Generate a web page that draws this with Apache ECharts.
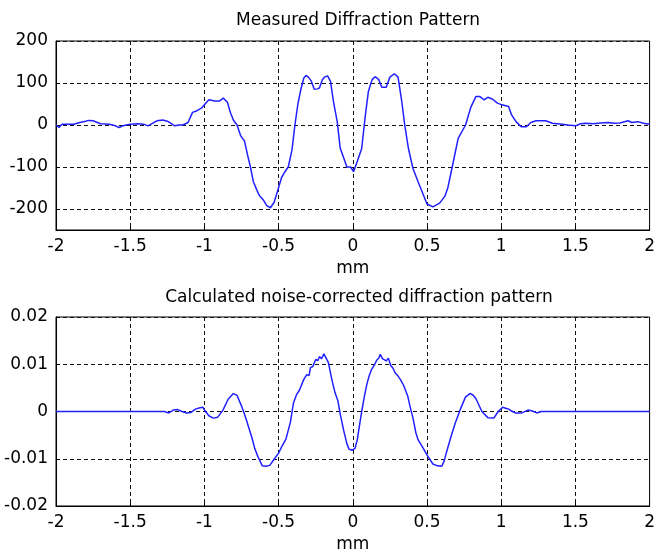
<!DOCTYPE html>
<html>
<head>
<meta charset="utf-8">
<script src="https://cdn.jsdelivr.net/npm/echarts@6/dist/echarts.min.js"></script>
<style>
html,body{margin:0;padding:0;background:#fff;}
#chart{width:658px;height:555px;}
</style>
</head>
<body>
<div id="chart"></div>
<script>
// ---------- data ----------
const measuredTitle = 'Measured Diffraction Pattern';
const correctedTitle = 'Calculated noise-corrected diffraction pattern';
const xName = 'mm';

const xTicks = [-2, -1.5, -1, -0.5, 0, 0.5, 1, 1.5, 2];
const measuredTicks = [-200, -100, 0, 100, 200];
const correctedTicks = [-0.02, -0.01, 0, 0.01, 0.02];

const measuredMm = [
  -2.00,-1.98,-1.96,-1.92,-1.88,-1.84,-1.80,-1.78,-1.75,-1.70,-1.64,-1.60,-1.575,-1.55,-1.50,-1.45,-1.41,-1.38,-1.35,-1.32,
  -1.28,-1.25,-1.235,-1.20,-1.17,-1.145,-1.11,-1.08,-1.05,-1.02,-1.00,-0.97,-0.93,-0.90,-0.873,-0.845,-0.825,-0.805,-0.78,-0.755,
  -0.73,-0.71,-0.69,-0.67,-0.65,-0.63,-0.60,-0.58,-0.555,-0.53,-0.505,-0.48,-0.455,-0.435,-0.41,-0.39,-0.37,-0.35,-0.33,-0.315,
  -0.30,-0.28,-0.26,-0.24,-0.225,-0.205,-0.19,-0.17,-0.15,-0.13,-0.105,-0.085,-0.06,-0.04,-0.015,0.005,0.03,0.06,0.085,0.105,
  0.13,0.15,0.175,0.195,0.225,0.25,0.28,0.305,0.33,0.35,0.375,0.405,0.44,0.475,0.50,0.54,0.585,0.62,0.64,0.67,
  0.71,0.76,0.795,0.83,0.855,0.885,0.91,0.94,0.975,1.005,1.05,1.07,1.10,1.135,1.17,1.20,1.235,1.30,1.345,1.41,
  1.45,1.50,1.535,1.57,1.62,1.67,1.72,1.76,1.80,1.855,1.88,1.92,1.96,2.00
];
const measured = [
  0,-6,2,2,2,6,9,11,10,3,2,-2,-6,-2,2,3,2,-2,4,10,
  12,9,6,-2,0,0,6,30,34,40,48,60,57,57,64,54,30,12,0,-26,
  -38,-70,-100,-135,-152,-168,-180,-192,-197,-184,-155,-125,-110,-100,-60,0,50,85,112,118,
  114,105,85,86,88,108,114,117,104,55,8,-55,-80,-100,-100,-111,-87,-56,24,80,
  108,115,108,90,90,114,122,114,56,0,-56,-103,-135,-166,-188,-195,-186,-170,-150,-100,
  -32,0,42,68,68,60,66,62,52,48,44,24,8,-4,-4,6,10,10,4,2,
  0,-2,3,4,3,5,6,4,5,10,6,8,4,2
];

const correctedMm = [
  -2.00,-1.27,-1.24,-1.21,-1.18,-1.15,-1.12,-1.09,-1.06,-1.03,-1.01,-0.995,-0.97,-0.94,-0.91,-0.875,-0.84,-0.805,-0.78,-0.75,
  -0.72,-0.705,-0.68,-0.66,-0.64,-0.61,-0.585,-0.56,-0.53,-0.50,-0.475,-0.45,-0.42,-0.40,-0.38,-0.36,-0.33,-0.31,-0.295,-0.285,
  -0.27,-0.25,-0.235,-0.225,-0.21,-0.195,-0.18,-0.165,-0.14,-0.12,-0.10,-0.085,-0.06,-0.04,-0.025,-0.005,0.015,0.03,0.045,0.06,
  0.08,0.095,0.11,0.125,0.145,0.16,0.175,0.185,0.20,0.21,0.225,0.24,0.255,0.27,0.285,0.305,0.32,0.34,0.37,0.39,
  0.405,0.425,0.44,0.46,0.475,0.50,0.52,0.54,0.57,0.60,0.615,0.63,0.66,0.69,0.725,0.76,0.79,0.81,0.83,0.87,
  0.91,0.95,0.98,1.01,1.03,1.05,1.07,1.095,1.14,1.18,1.21,1.24,1.27,2.00
];
const corrected = [
  0,0,-0.0003,0.0003,0.0004,0,-0.0003,-0.0002,0.0005,0.0008,0.0009,0.0001,-0.0009,-0.0014,-0.0012,0.0003,0.0026,0.0038,0.0034,0.0012,
  -0.0015,-0.003,-0.0055,-0.0079,-0.0095,-0.0115,-0.0116,-0.0114,-0.0101,-0.0088,-0.0072,-0.0058,-0.0022,0.0018,0.0035,0.0045,0.0068,0.0078,0.0076,0.0093,
  0.0095,0.0110,0.0108,0.0116,0.0112,0.0122,0.0113,0.0104,0.0066,0.0040,0.0022,-0.0005,-0.0042,-0.0068,-0.0080,-0.0082,-0.0078,-0.0060,-0.0030,0.0000,
  0.0035,0.0058,0.0075,0.0088,0.0098,0.0108,0.0113,0.0121,0.0112,0.0114,0.0107,0.0113,0.0098,0.0092,0.0082,0.0075,0.0068,0.0057,0.0033,0.0005,
  -0.0013,-0.0045,-0.0060,-0.0070,-0.0078,-0.0092,-0.0102,-0.0111,-0.0115,-0.0116,-0.0105,-0.0088,-0.0055,-0.0025,0.0005,0.0031,0.0038,0.0035,0.0027,0.0,
  -0.0013,-0.0014,0.0000,0.0009,0.0007,0.0005,0.0001,-0.0003,-0.0003,0.0003,0.0001,-0.0003,0.0,0
];

// ---------- chart ----------
const zip = (a, b) => a.map((v, i) => [v, b[i]]);
const FONT = 'DejaVu Sans';
const labelStyle = { color: '#000', fontFamily: FONT, fontSize: 17 };
const dashed = { show: true, lineStyle: { color: '#111', width: 1, type: [4, 3] } };
const lineColor = '#2020ff';

function xAxisOf(gridIndex) {
  return {
    gridIndex, type: 'value', min: xTicks[0], max: xTicks[xTicks.length - 1], interval: 0.5,
    name: xName, nameLocation: 'middle', nameGap: 30,
    nameTextStyle: labelStyle,
    axisLine: { show: true, onZero: false, lineStyle: { color: '#000', width: 1 } },
    axisTick: { show: true, inside: true, length: 4, lineStyle: { color: '#000' } },
    axisLabel: Object.assign({ margin: 8, showMinLabel: true, showMaxLabel: true }, labelStyle),
    splitLine: dashed
  };
}
function yAxisOf(gridIndex, min, max, ticks) {
  return {
    gridIndex, type: 'value', min, max,
    axisLine: { show: true, onZero: false, lineStyle: { color: '#000', width: 1 } },
    axisTick: { show: true, inside: true, length: 4, customValues: ticks, lineStyle: { color: '#000' } },
    axisLabel: Object.assign({ margin: 8, customValues: ticks }, labelStyle),
    splitLine: dashed
  };
}

const chart = echarts.init(document.getElementById('chart'), null, { renderer: 'canvas' });
chart.setOption({
  backgroundColor: '#fff',
  animation: false,
  title: [
    { text: measuredTitle, left: 353, top: 7, textAlign: 'center',
      textStyle: { color: '#000', fontFamily: FONT, fontSize: 17, fontWeight: 'normal' } },
    { text: correctedTitle, left: 354, top: 284, textAlign: 'center',
      textStyle: { color: '#000', fontFamily: FONT, fontSize: 17, fontWeight: 'normal' } }
  ],
  grid: [
    { left: 56, top: 41, width: 599, height: 189, show: true, borderColor: '#000', borderWidth: 1, backgroundColor: '#fff' },
    { left: 56, top: 317, width: 599, height: 189, show: true, borderColor: '#000', borderWidth: 1, backgroundColor: '#fff' }
  ],
  xAxis: [xAxisOf(0), xAxisOf(1)],
  yAxis: [yAxisOf(0, -250, 200, measuredTicks), yAxisOf(1, -0.02, 0.02, correctedTicks)],
  series: [
    { type: 'line', xAxisIndex: 0, yAxisIndex: 0, data: zip(measuredMm, measured),
      showSymbol: false, smooth: false, z: 5, lineStyle: { color: lineColor, width: 1.5 } },
    { type: 'line', xAxisIndex: 1, yAxisIndex: 1, data: zip(correctedMm, corrected),
      showSymbol: false, smooth: false, z: 5, lineStyle: { color: lineColor, width: 1.5 } }
  ]
});
</script>
</body>
</html>
